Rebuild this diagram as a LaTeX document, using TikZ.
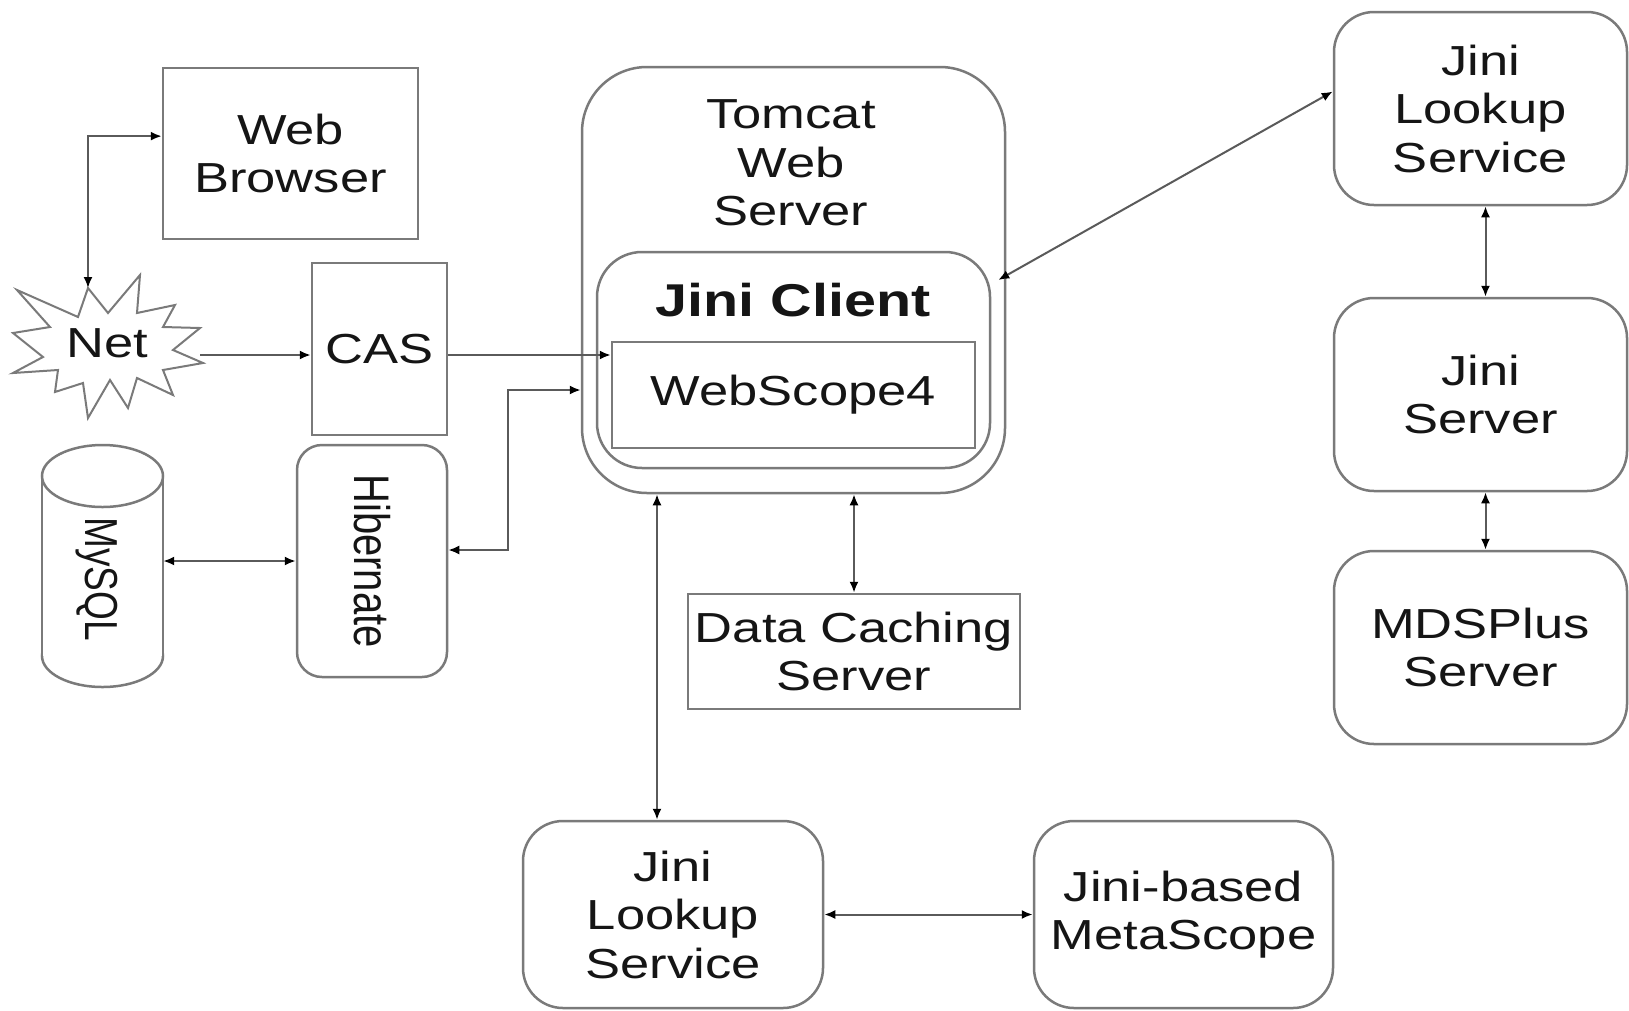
\documentclass[tikz,border=0pt]{standalone}
\usepackage{fontspec}
\setmainfont{Liberation Sans}[FakeStretch=1.25]
\newfontfamily\rotfont{Liberation Sans}
\usepackage{graphicx}
\usetikzlibrary{arrows.meta,calc}
\definecolor{boxgray}{HTML}{7A7A7A}
\definecolor{lngray}{HTML}{5A5A5A}
\definecolor{txtc}{HTML}{151515}
\begin{document}
\begin{tikzpicture}[x=1pt,y=-1pt,
  box/.style={draw=boxgray,line width=2.5pt,fill=white,inner sep=0pt,align=center,text=txtc,
              font=\fontsize{42}{48.5}\selectfont},
  rbox/.style={box,rounded corners=#1},
  txt/.style={inner sep=0pt,align=center,text=txtc,font=\fontsize{42}{48.5}\selectfont},
  conn/.style={draw=lngray,line width=2pt},
  dbl/.style={conn,{Latex[length=11pt,width=9pt,color=black]}-{Latex[length=11pt,width=9pt,color=black]}},
  one/.style={conn,-{Latex[length=11pt,width=9pt,color=black]}}
]
\useasboundingbox (0,0) rectangle (1629,1010);
\fill[white] (0,0) rectangle (1629,1010);

% Web Browser
\node[box,minimum width=255pt,minimum height=171pt] (wb) at (290.5,153.5) {Web\\Browser};

% Net star
\draw[draw=boxgray,line width=2pt,fill=white,line join=miter]
  (17,290) -- (78,317) -- (88,288) -- (108,313) -- (140,275) -- (137,313) -- (175,305) -- (163,327)
  -- (200,328) -- (173,350) -- (203,363) -- (163,370) -- (173,395) -- (137,378) -- (128,408)
  -- (110,380) -- (88,418) -- (83,383) -- (55,392) -- (58,370) -- (13,373) -- (43,357) -- (13,333)
  -- (50,327) -- cycle;
\node[txt] (net) at (107,343) {Net};
\coordinate (nettop) at (88,288);
\coordinate (netright) at (200,355);

% CAS
\node[box,minimum width=135pt,minimum height=172pt] (cas) at (379.5,349) {CAS};

% MySQL cylinder
\draw[draw=boxgray,line width=2.5pt,fill=white] (102.5,656) ellipse [x radius=60.5pt,y radius=31pt];
\fill[white] (42,476) rectangle (163,656);
\draw[draw=boxgray,line width=2.5pt] (42,476) -- (42,656) (163,476) -- (163,656);
\draw[draw=boxgray,line width=2.5pt,fill=white] (102.5,476) ellipse [x radius=60.5pt,y radius=31pt];
\node[inner sep=0pt,minimum width=121pt,minimum height=242pt] (mysql) at (102.5,566) {};
\node[txt] (mysqlt) at (97,579) {\rotatebox{-90}{\scalebox{1}[1.25]{\rotfont\fontsize{37}{44}\selectfont MySQL}}};

% Hibernate
\node[rbox=25pt,minimum width=150pt,minimum height=232pt] (hib) at (372,561)
  {\rotatebox{-90}{\scalebox{1}[1.25]{\rotfont\fontsize{40}{48}\selectfont Hibernate}}};

% Tomcat
\node[rbox=65pt,minimum width=423pt,minimum height=426pt] (tomcat) at (793.5,280) {};
\node[txt] (tomcatt) at (791,163) {Tomcat\\Web\\Server};
\node[rbox=45pt,minimum width=393pt,minimum height=216pt] (jc) at (793.5,360) {};
\node[txt,font=\fontsize{46}{52}\selectfont\bfseries] (jct) at (793,300) {Jini Client};
\node[box,minimum width=363pt,minimum height=106pt] (ws) at (793.5,395) {WebScope4};

% Data caching
\node[box,minimum width=332pt,minimum height=115pt] (dcs) at (854,651.5) {Data Caching\\Server};

% Right column
\node[rbox=40pt,minimum width=293pt,minimum height=193pt] (lk1) at (1480.5,108.5) {Jini\\Lookup\\Service};
\node[rbox=40pt,minimum width=293pt,minimum height=193pt] (js) at (1480.5,394.5) {Jini\\Server};
\node[rbox=40pt,minimum width=293pt,minimum height=193pt] (mds) at (1480.5,647.5) {MDSPlus\\Server};

% Bottom row
\node[rbox=40pt,minimum width=300pt,minimum height=187pt] (lk2) at (673,914.5) {Jini\\Lookup\\Service};
\node[rbox=40pt,minimum width=299pt,minimum height=187pt] (meta) at (1183.5,914.5) {Jini-based\\MetaScope};

% Connectors
\draw[dbl] ($(wb.north west)!0.40!(wb.south west)$) -| (nettop);
\draw[one] (netright) -- (netright -| cas.west);
\draw[one] (cas.east |- netright) -- (netright -| ws.west);
\draw[dbl] (mysql.east |- hib.west) -- (hib.west);
\draw[dbl] ([yshift=11pt]hib.east) -- ++(60,0) |- ([yshift=-110pt]tomcat.west);
\draw[dbl] ([xshift=7pt,yshift=80pt]jc.east) -- ([yshift=17pt]lk1.west);
\draw[dbl] (dcs.north |- tomcat.south) -- (dcs.north);
\draw[dbl] ([xshift=-16pt]lk2.north |- tomcat.south) -- ([xshift=-16pt]lk2.north);
\draw[dbl] (lk2.east) -- (lk2.east -| meta.west);
\draw[dbl] ([xshift=5pt]lk1.south) -- ([xshift=5pt]js.north);
\draw[dbl] ([xshift=5pt]js.south) -- ([xshift=5pt]mds.north);
\end{tikzpicture}
\end{document}
